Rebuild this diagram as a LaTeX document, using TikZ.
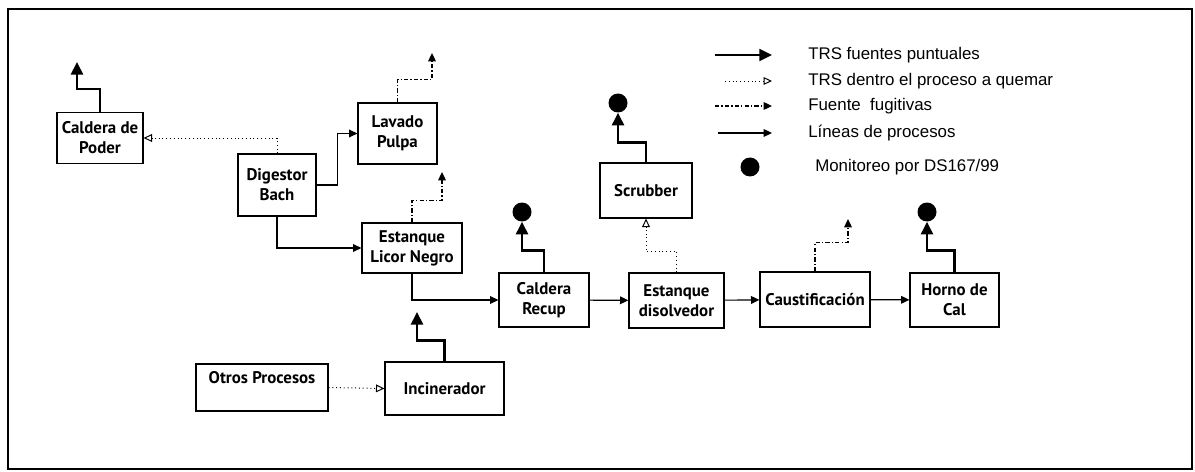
\documentclass[tikz,border=0pt]{standalone}
\usepackage{fontspec}
\setmainfont{PT Sans}
\newfontfamily\leyfont{Liberation Sans}
\usetikzlibrary{arrows.meta}
\newlength{\px}
\setlength{\px}{0.025cm}

\begin{document}
\begin{tikzpicture}[x=0.025cm,y=-0.025cm,line join=miter,
  caja/.style={draw,line width=0.8pt,align=center,inner sep=1pt,font=\bfseries\fontsize{12}{14.2}\selectfont},
  punt/.style={line width=2pt,-{Triangle[length=9pt,width=8.5pt]}},
  quemar/.style={line width=0.7pt,dotted,-{Triangle[open,length=6pt,width=5.5pt]}},
  fug/.style={line width=0.9pt,dash pattern=on 3pt off 1.5pt on 1pt off 1.5pt,-{Triangle[length=6pt,width=5.5pt]}},
  proc/.style={line width=0.8pt,-{Triangle[length=6pt,width=5.5pt]}},
  monit/.style={circle,fill,inner sep=0pt,minimum size=19\px},
  leyenda/.style={anchor=west,inner sep=0pt,font=\leyfont\fontsize{12}{13}\selectfont}]
\useasboundingbox (0,0) rectangle (1195,472);
\draw[line width=1.3pt] (8,9) rectangle (1192,469);

% cajas del proceso
\node[caja,minimum width=86\px,minimum height=51\px] (cpoder) at (100,138) {Caldera de\\Poder};
\node[caja,minimum width=78\px,minimum height=62\px] (digestor) at (277,185) {Digestor\\Bach};
\node[caja,minimum width=79\px,minimum height=61\px] (lavado) at (397.5,133.5) {Lavado\\Pulpa};
\node[caja,minimum width=100\px,minimum height=50\px] (licor) at (412,248) {Estanque\\Licor Negro};
\node[caja,minimum width=90\px,minimum height=54\px] (recup) at (544,300) {Caldera\\Recup};
\node[caja,minimum width=119\px,minimum height=53\px] (incin) at (444.5,388.5) {Incinerador};
\node[caja,minimum width=132\px,minimum height=47\px] (otros) at (262,387.5) {Otros Procesos\\\mbox{}};
\node[caja,minimum width=92\px,minimum height=55\px] (scrub) at (646,190.5) {Scrubber};
\node[caja,minimum width=95\px,minimum height=55\px] (disolv) at (676.5,300.5) {Estanque\\disolvedor};
\node[caja,minimum width=110\px,minimum height=55\px] (caust) at (815,299.5) {Caustificación};
\node[caja,minimum width=89\px,minimum height=54\px] (horno) at (954.5,300) {Horno de\\Cal};

% puntos de monitoreo
\node[monit] (dotrecup) at (522,212) {};
\node[monit] (dotscrub) at (618,103) {};
\node[monit] (dothorno) at (927,212) {};

% salidas libres
\coordinate (cpout) at (77,62);
\coordinate (lvout) at (432,53);
\coordinate (lcout) at (442,172);
\coordinate (incout) at (417,312);
\coordinate (csout) at (848,219);

% conexiones
\draw[punt] (cpoder.north) -- ++(0,-23) -| (cpout);
\draw[quemar] (digestor.north) |- (cpoder.east);
\draw[proc] (digestor.east) -- ++(21,0) |- (lavado.west);
\draw[fug] (lavado.north) -- ++(0,-23) -| (lvout);
\draw[proc] (digestor.south) |- (licor.west);
\draw[fug] (licor.north) -- ++(0,-22) -| (lcout);
\draw[proc] (licor.south) |- (recup.west);
\draw[punt] (recup.north) -- ++(0,-22) -| (dotrecup.south);
\draw[punt] (incin.north) -- ++(0,-21) -| (incout);
\draw[quemar] (otros.east) -- (incin.west);
\draw[proc] (recup) -- (disolv);
\draw[proc] (disolv) -- (caust);
\draw[proc] (caust) -- (horno);
\draw[quemar] (disolv.north) -- ++(0,-21) -| (scrub.south);
\draw[punt] (scrub.north) -- ++(0,-20) -| (dotscrub.south);
\draw[fug] (caust.north) -- ++(0,-29) -| (csout);
\draw[punt] (horno.north) -- ++(0,-22) -| (dothorno.south);

% leyenda
\coordinate (lg1a) at (715,55); \coordinate (lg1b) at (772,55);
\coordinate (lg2a) at (725,81); \coordinate (lg2b) at (772,81);
\coordinate (lg3a) at (715,106); \coordinate (lg3b) at (772,106);
\coordinate (lg4a) at (718,133); \coordinate (lg4b) at (772,133);
\draw[punt,line width=1.2pt] (lg1a) -- (lg1b);
\draw[quemar] (lg2a) -- (lg2b);
\draw[fug] (lg3a) -- (lg3b);
\draw[proc] (lg4a) -- (lg4b);
\node[monit] (lgdot) at (750,167) {};
\node[leyenda] (lgt1) at (808,55) {TRS fuentes puntuales};
\node[leyenda] (lgt2) at (808,81) {TRS dentro el proceso a quemar};
\node[leyenda] (lgt3) at (808,106) {Fuente\ \ fugitivas};
\node[leyenda] (lgt4) at (808,133) {Líneas de procesos};
\node[leyenda] (lgt5) at (815,167) {Monitoreo por DS167/99};
\end{tikzpicture}
\end{document}
